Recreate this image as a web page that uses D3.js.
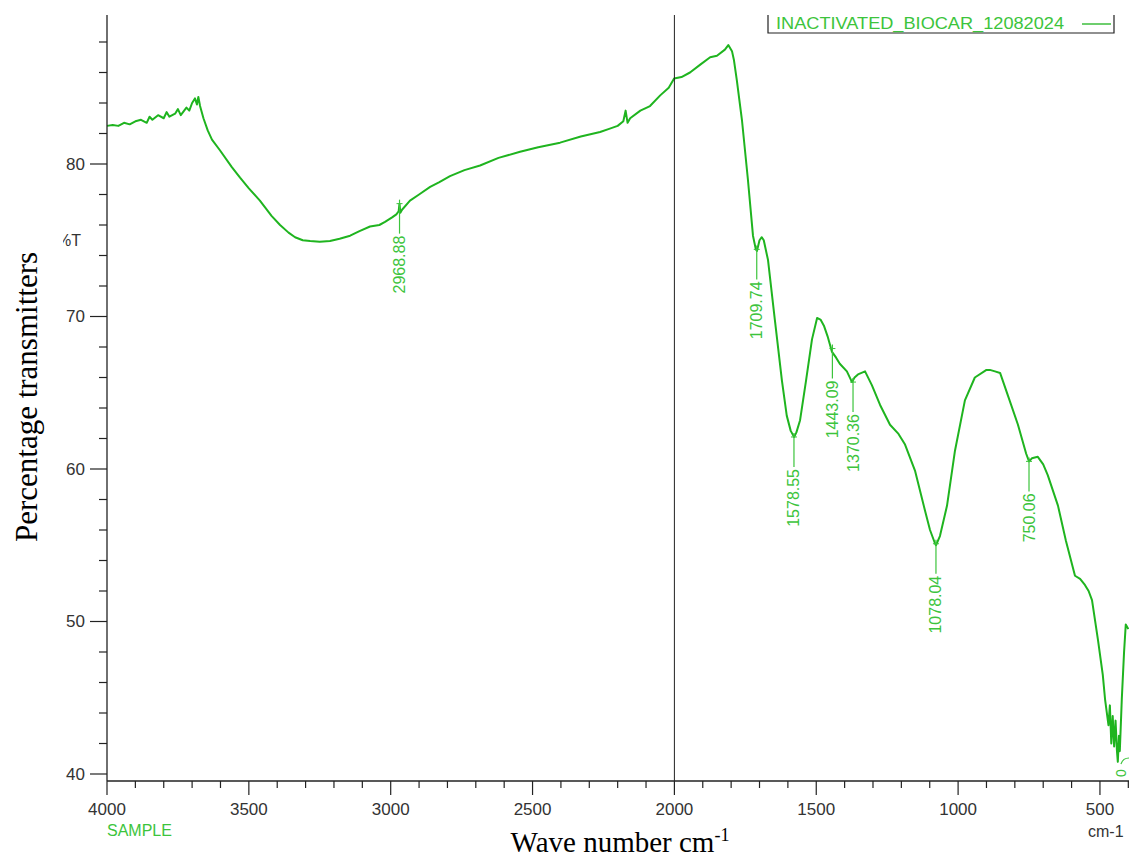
<!DOCTYPE html>
<html>
<head>
<meta charset="utf-8">
<script src="https://cdn.jsdelivr.net/npm/d3@7"></script>
<style>
  html, body { margin: 0; padding: 0; background: #fff; }
  svg { display: block; }
</style>
</head>
<body>
<svg id="chart" width="1129" height="861"></svg>
<script>
// FTIR spectrum of inactivated biochar sample
const wavenumbers = [
  4000, 3980, 3960, 3940, 3920, 3900, 3880, 3860, 3850, 3840, 3820, 3800, 3790, 3780,
  3760, 3750, 3740, 3720, 3710, 3700, 3690, 3683, 3678, 3672, 3660, 3645, 3630, 3602,
  3560, 3531, 3500, 3461, 3420, 3390, 3360, 3337, 3310, 3284, 3250, 3214, 3180, 3143,
  3110, 3073, 3040, 3020, 2995, 2980, 2972, 2969, 2966, 2960, 2932, 2900, 2861, 2830,
  2791, 2740, 2685, 2620, 2544, 2480, 2403, 2330, 2262, 2230, 2200, 2180, 2172, 2165,
  2156, 2120, 2086, 2050, 2020, 2001, 1975, 1945, 1910, 1874, 1850, 1822, 1810, 1797,
  1790, 1780, 1762, 1741, 1723, 1713, 1709, 1700, 1692, 1685, 1670, 1646, 1621, 1604,
  1590, 1578, 1570, 1557, 1536, 1515, 1497, 1485, 1473, 1460, 1445, 1430, 1417, 1392,
  1374, 1365, 1353, 1328, 1304, 1275, 1240, 1210, 1187, 1152, 1117, 1099, 1081, 1078,
  1064, 1039, 1011, 976, 941, 900, 888, 870, 852, 824, 789, 760, 750, 740, 719, 700,
  684, 648, 620, 588, 570, 553, 540, 528, 507, 490, 482, 470, 465, 460, 455, 450, 445,
  440, 437, 433, 430, 423, 415, 409, 400
];
const transmittance = [
  82.5, 82.55, 82.5, 82.7, 82.6, 82.8, 82.9, 82.7, 83.1, 82.9, 83.2, 83.0, 83.4, 83.1,
  83.3, 83.6, 83.2, 83.7, 83.5, 84.0, 84.3, 83.9, 84.4, 83.8, 83.0, 82.2, 81.6, 80.9,
  79.8, 79.1, 78.4, 77.6, 76.6, 76.0, 75.5, 75.2, 75.0, 74.95, 74.9, 74.95, 75.1, 75.3,
  75.6, 75.9, 76.0, 76.2, 76.5, 76.7, 76.9, 77.4, 76.8, 77.0, 77.6, 78.0, 78.5, 78.8,
  79.2, 79.6, 79.9, 80.4, 80.8, 81.1, 81.4, 81.8, 82.1, 82.3, 82.5, 82.8, 83.5, 82.7,
  83.0, 83.5, 83.8, 84.5, 85.0, 85.6, 85.7, 86.0, 86.5, 87.0, 87.1, 87.5, 87.8, 87.4,
  86.8, 85.5, 82.9, 79.0, 75.3, 74.4, 74.3, 75.0, 75.2, 75.0, 73.7, 69.8, 65.8, 63.5,
  62.5, 62.1, 62.4, 63.2, 65.8, 68.5, 69.9, 69.8, 69.4, 68.7, 67.7, 67.3, 66.9, 66.4,
  65.7, 66.0, 66.2, 66.4, 65.5, 64.2, 62.9, 62.3, 61.6, 59.9, 57.3, 56.0, 55.1, 55.0,
  55.6, 57.6, 61.2, 64.5, 66.0, 66.5, 66.5, 66.4, 66.3, 64.8, 62.9, 61.0, 60.5, 60.7,
  60.8, 60.3, 59.6, 57.6, 55.3, 53.0, 52.8, 52.4, 52.0, 51.4, 48.8, 46.5, 44.9, 43.2,
  44.5, 42.0, 43.8, 41.8, 43.5, 41.5, 40.8, 42.5, 41.5, 44.9, 48.0, 49.8, 49.5
];

// Marked peaks
const peakWavenumbers = [2968.88, 1709.74, 1578.55, 1443.09, 1370.36, 1078.04, 750.06];
const peakTransmittance = [77.4, 74.4, 62.1, 67.9, 65.7, 55.1, 60.5];

// Axis ticks
const xMajorTicks = [4000, 3500, 3000, 2500, 2000, 1500, 1000, 500];
const yMajorTicks = [40, 50, 60, 70, 80];

const seriesName = "INACTIVATED_BIOCAR_12082024";

const lineColor = "#1fb41f";
const labelColor = "#3cc43c";
const axisColor = "#222";
const tickTextColor = "#333";

const svg = d3.select("#chart");
const left = 107, axisTop = 15, axisBottom = 781;

const x = d3.scaleLinear().domain([4000, 400]).range([left, left + 3600 * 0.2837]);
const y = d3.scaleLinear().domain([40, 80]).range([774, 164]);

// Spectrum line
const pts = wavenumbers.map((w, i) => [w, transmittance[i]]);
svg.append("path")
  .datum(pts)
  .attr("fill", "none")
  .attr("stroke", lineColor)
  .attr("stroke-width", 2)
  .attr("stroke-linejoin", "round")
  .attr("d", d3.line().x(d => x(d[0])).y(d => y(d[1])));

// Vertical reference line at 2000 cm-1
svg.append("line")
  .attr("x1", x(2000)).attr("x2", x(2000))
  .attr("y1", axisTop).attr("y2", axisBottom)
  .attr("stroke", axisColor).attr("stroke-width", 1);

// Y axis
const yAxisG = svg.append("g");
yAxisG.append("line")
  .attr("x1", left).attr("x2", left).attr("y1", axisTop).attr("y2", axisBottom)
  .attr("stroke", axisColor).attr("stroke-width", 1.3);
const yMinor = d3.range(40, 89, 2).filter(v => !yMajorTicks.includes(v));
yAxisG.selectAll(".ymin").data(yMinor).join("line")
  .attr("x1", left - 8).attr("x2", left)
  .attr("y1", d => y(d)).attr("y2", d => y(d))
  .attr("stroke", axisColor).attr("stroke-width", 1.2);
yAxisG.selectAll(".ymaj").data(yMajorTicks).join("line")
  .attr("x1", left - 17).attr("x2", left)
  .attr("y1", d => y(d)).attr("y2", d => y(d))
  .attr("stroke", axisColor).attr("stroke-width", 1.2);
yAxisG.selectAll(".ylab").data(yMajorTicks).join("text")
  .attr("x", left - 22).attr("y", d => y(d))
  .attr("text-anchor", "end").attr("dominant-baseline", "central")
  .attr("font-family", "Liberation Sans, Arial, sans-serif").attr("font-size", 17)
  .attr("fill", tickTextColor)
  .text(d => d);

// %T unit label (partly hidden behind the axis title)
svg.append("clipPath").attr("id", "unitClip")
  .append("rect").attr("x", 63).attr("y", 220).attr("width", 40).attr("height", 40);
svg.append("text")
  .attr("clip-path", "url(#unitClip)")
  .attr("x", 81).attr("y", y(75))
  .attr("text-anchor", "end").attr("dominant-baseline", "central")
  .attr("font-family", "Liberation Sans, Arial, sans-serif").attr("font-size", 16)
  .attr("fill", tickTextColor)
  .text("%T");

// X axis
const xAxisG = svg.append("g");
xAxisG.append("line")
  .attr("x1", left).attr("x2", 1129).attr("y1", axisBottom).attr("y2", axisBottom)
  .attr("stroke", axisColor).attr("stroke-width", 1.3);
const xMinor = d3.range(400, 4001, 100).filter(v => !xMajorTicks.includes(v));
xAxisG.selectAll(".xmin").data(xMinor).join("line")
  .attr("x1", d => x(d)).attr("x2", d => x(d))
  .attr("y1", axisBottom).attr("y2", axisBottom + 7)
  .attr("stroke", axisColor).attr("stroke-width", 1.2);
xAxisG.selectAll(".xmaj").data(xMajorTicks).join("line")
  .attr("x1", d => x(d)).attr("x2", d => x(d))
  .attr("y1", axisBottom).attr("y2", axisBottom + 14)
  .attr("stroke", axisColor).attr("stroke-width", 1.2);
xAxisG.selectAll(".xlab").data(xMajorTicks).join("text")
  .attr("x", d => x(d)).attr("y", 815)
  .attr("text-anchor", "middle")
  .attr("font-family", "Liberation Sans, Arial, sans-serif").attr("font-size", 17)
  .attr("fill", tickTextColor)
  .text(d => d);

svg.append("text")
  .attr("x", 1088).attr("y", 837)
  .attr("font-family", "Liberation Sans, Arial, sans-serif").attr("font-size", 16)
  .attr("fill", tickTextColor)
  .text("cm-1");

svg.append("text")
  .attr("x", left).attr("y", 836)
  .attr("font-family", "Liberation Sans, Arial, sans-serif").attr("font-size", 16)
  .attr("fill", labelColor)
  .text("SAMPLE");

// Peak markers with rotated wavenumber labels
const peaks = peakWavenumbers.map((w, i) => ({ w, t: peakTransmittance[i] }));
const pg = svg.append("g");
pg.selectAll(".pline").data(peaks).join("line")
  .attr("x1", d => x(d.w)).attr("x2", d => x(d.w))
  .attr("y1", d => y(d.t) - 4).attr("y2", d => y(d.t) + 30)
  .attr("stroke", labelColor).attr("stroke-width", 1.2);
pg.selectAll(".ptick").data(peaks).join("line")
  .attr("x1", d => x(d.w) - 3).attr("x2", d => x(d.w) + 3)
  .attr("y1", d => y(d.t)).attr("y2", d => y(d.t))
  .attr("stroke", labelColor).attr("stroke-width", 1);
pg.selectAll(".plab").data(peaks).join("text")
  .attr("transform", d => `translate(${x(d.w)},${y(d.t) + 32}) rotate(-90)`)
  .attr("text-anchor", "end").attr("dominant-baseline", "central")
  .attr("font-family", "Liberation Sans, Arial, sans-serif").attr("font-size", 16)
  .attr("fill", labelColor)
  .text(d => d.w.toFixed(2));

// Label stub cut at the right edge
svg.append("text")
  .attr("transform", `translate(1121,773) rotate(-90)`)
  .attr("text-anchor", "middle").attr("dominant-baseline", "central")
  .attr("font-family", "Liberation Sans, Arial, sans-serif").attr("font-size", 14)
  .attr("fill", labelColor)
  .text("0");
svg.append("path")
  .attr("d", "M1121,764 q2,-6 8,-6")
  .attr("fill", "none").attr("stroke", labelColor).attr("stroke-width", 1.2);

// Legend
const lg = svg.append("g");
lg.append("path")
  .attr("d", "M768,15 V33 H1114 V15")
  .attr("fill", "none").attr("stroke", axisColor).attr("stroke-width", 1.2);
lg.append("text")
  .attr("x", 776).attr("y", 29)
  .attr("font-family", "Liberation Sans, Arial, sans-serif").attr("font-size", 17)
  .attr("textLength", 288).attr("lengthAdjust", "spacingAndGlyphs")
  .attr("fill", labelColor)
  .text(seriesName);
lg.append("line")
  .attr("x1", 1082).attr("x2", 1111).attr("y1", 24).attr("y2", 24)
  .attr("stroke", lineColor).attr("stroke-width", 1.3);

// Axis titles
svg.append("text")
  .attr("transform", "translate(26,397) rotate(-90)")
  .attr("text-anchor", "middle").attr("dominant-baseline", "central")
  .attr("font-family", "Liberation Serif, Times New Roman, serif").attr("font-size", 31)
  .attr("fill", "#000")
  .text("Percentage transmitters");

const xt = svg.append("text")
  .attr("x", 620).attr("y", 852)
  .attr("text-anchor", "middle")
  .attr("font-family", "Liberation Serif, Times New Roman, serif").attr("font-size", 29)
  .attr("fill", "#000");
xt.append("tspan").text("Wave number cm");
xt.append("tspan").attr("font-size", 18).attr("dy", -11).text("-1");
</script>
</body>
</html>
